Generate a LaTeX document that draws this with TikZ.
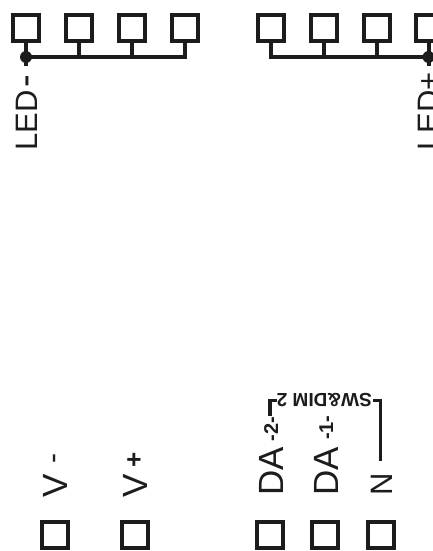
\documentclass[tikz,border=0pt]{standalone}
\usepackage{fontspec}
\setmainfont{Liberation Sans}
\definecolor{ink}{HTML}{1C1C1C}
\tikzset{
  pin/.style={draw=ink,line width=4pt,minimum size=26pt,inner sep=0pt,fill=white},
  wire/.style={draw=ink,line width=4pt},
  thin wire/.style={draw=ink,line width=3.2pt},
  junction/.style={circle,fill=ink,minimum size=12pt,inner sep=0pt},
  lab/.style={text=ink,inner sep=0pt,rotate=90,anchor=base west,font=\fontsize{31}{31}\selectfont},
  big lab/.style={lab,font=\fontsize{35}{35}\selectfont},
  small lab/.style={text=ink,inner sep=0pt,rotate=90,anchor=base west,font=\bfseries\fontsize{20}{20}\selectfont},
  mark lab/.style={small lab,font=\bfseries\fontsize{26}{26}\selectfont},
  flip lab/.style={text=ink,inner sep=0pt,rotate=180,anchor=base west,font=\bfseries\fontsize{19}{19}\selectfont}
}
\begin{document}
\begin{tikzpicture}[x=1pt,y=-1pt]
\useasboundingbox (0,0) rectangle (433,551);
\clip (0,0) rectangle (433,551);
% top left pins
\node[pin] (a1) at (26,28) {};
\node[pin] (a2) at (79,28) {};
\node[pin] (a3) at (132,28) {};
\node[pin] (a4) at (185,28) {};
\node[junction] (ja) at (26,57) {};
\coordinate (ja2) at (79,57);
\coordinate (ja3) at (132,57);
\coordinate (ja4) at (185,57);
\coordinate (ta) at (26,66);
\draw[wire] (a1.south) -- (ta);
\draw[wire,line join=miter] (ja.center) -- (ja4) -- (a4.south);
\draw[wire] (ja2) -- (a2.south);
\draw[wire] (ja3) -- (a3.south);
\node[lab] (leda) at (37,151) {LED\kern3pt{\fontsize{38}{38}\selectfont-}};
% top right pins
\node[pin] (b1) at (270.5,28) {};
\node[pin] (b2) at (323.5,28) {};
\node[pin] (b3) at (376.5,28) {};
\node[pin] (b4) at (428.5,28) {};
\node[junction] (jb) at (428.5,57) {};
\coordinate (jb1) at (270.5,57);
\coordinate (jb2) at (323.5,57);
\coordinate (jb3) at (376.5,57);
\coordinate (tb) at (428.5,66);
\draw[wire] (b4.south) -- (tb);
\draw[wire,line join=miter] (jb.center) -- (jb1) -- (b1.south);
\draw[wire] (jb2) -- (b2.south);
\draw[wire] (jb3) -- (b3.south);
\node[lab] (ledb) at (439,151) {LED+};
% bottom pins
\node[pin] (v1) at (55,535) {};
\node[pin] (v2) at (135,535) {};
\node[pin] (d2) at (270,535) {};
\node[pin] (d1) at (325,535) {};
\node[pin] (n) at (380.5,535) {};
\node[big lab] (lv1) at (67,498) {V};
\node[big lab] (lv2) at (147,498) {V};
\node[mark lab,font=\fontsize{30}{30}\selectfont] (mv1) at (62,464) {-};
\node[mark lab] (pv2) at (142.6,467.6) {+};
\node[big lab] (ld2) at (283,496) {DA};
\node[big lab] (ld1) at (338,496) {DA};
\node[lab] (ln) at (392,496) {N};
\node[small lab] (t2) at (278,441.5) {-2-};
\node[small lab] (t1) at (333,440) {-1-};
\node[flip lab] (sw) at (372,393) {SW\&DIM 2};
% SW bracket
\coordinate (c1) at (380.5,461);
\coordinate (c2) at (380.5,400.5);
\coordinate (c3) at (373,400.5);
\coordinate (c4) at (270,416);
\coordinate (c5) at (270,400.5);
\coordinate (c6) at (277,400.5);
\draw[thin wire] (c1) -- (c2) -- (c3);
\draw[thin wire] (c4) -- (c5) -- (c6);
\end{tikzpicture}
\end{document}
